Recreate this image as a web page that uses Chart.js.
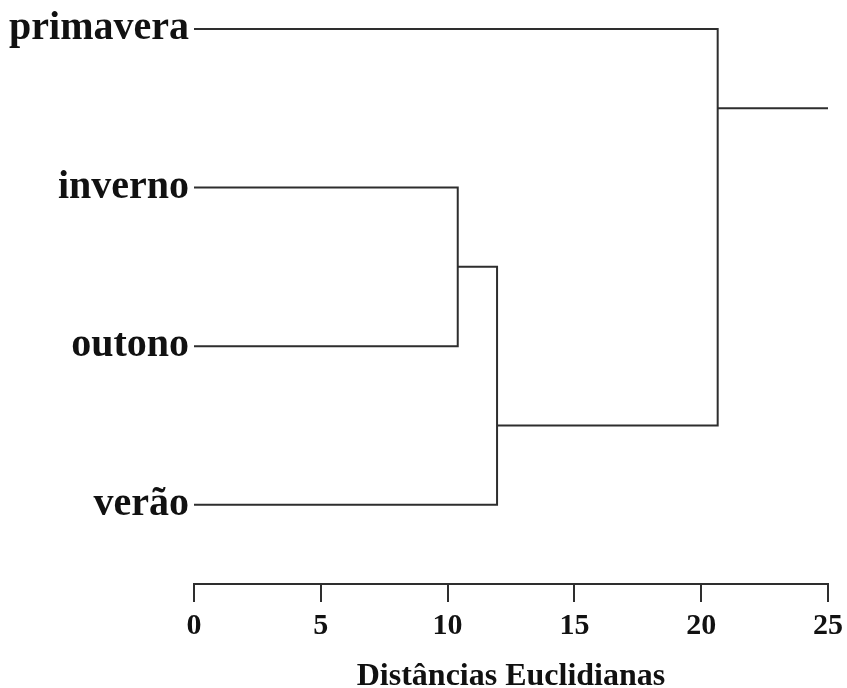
<!DOCTYPE html>
<html>
<head>
<meta charset="utf-8">
<script src="https://cdn.jsdelivr.net/npm/chart.js@4/dist/chart.umd.min.js"></script>
<style>
  html, body { margin: 0; padding: 0; background: #ffffff; }
  canvas { display: block; }
</style>
</head>
<body>
<canvas id="dendro" width="847" height="688"></canvas>
<script>
// Leaves, bottom row (0) to top row (3)
const leafNames = ['verão', 'outono', 'inverno', 'primavera'];
const leafRows = [0, 1, 2, 3];

// Agglomeration steps: joined pair, joining distance, row of the new node
const mergeChildren = [['inverno', 'outono'], ['m1', 'verão'], ['primavera', 'm2']];
const mergeDistances = [10.4, 11.95, 20.65];
const mergeRows = [1.5, 0.5, 2.5];
const rootTailEnd = 25;

// Distance axis ticks
const distTicks = [0, 5, 10, 15, 20, 25];

const LINE = '#2e2e2e';
const SERIF = "'Liberation Serif', 'Times New Roman', serif";

// Node table: leaves sit at distance 0 on their own row
const nodes = {};
leafNames.forEach((n, i) => { nodes[n] = { d: 0, r: leafRows[i] }; });

const segments = [];
mergeChildren.forEach((pair, i) => {
  const a = nodes[pair[0]], b = nodes[pair[1]], h = mergeDistances[i];
  segments.push([
    { x: a.d, y: a.r }, { x: h, y: a.r },
    { x: h, y: b.r }, { x: b.d, y: b.r }
  ]);
  nodes['m' + (i + 1)] = { d: h, r: mergeRows[i] };
});
const root = nodes['m' + mergeChildren.length];
segments.push([{ x: root.d, y: root.r }, { x: rootTailEnd, y: root.r }]);

const datasets = segments.map(pts => ({
  data: pts,
  showLine: true,
  borderColor: LINE,
  borderWidth: 2,
  pointRadius: 0,
  tension: 0,
  clip: false
}));

new Chart(document.getElementById('dendro'), {
  type: 'scatter',
  data: { datasets },
  options: {
    responsive: false,
    animation: false,
    devicePixelRatio: 1,
    layout: { padding: { top: 28, right: 19, left: 0, bottom: 0 } },
    plugins: { legend: { display: false }, tooltip: { enabled: false } },
    scales: {
      x: {
        type: 'linear',
        position: 'bottom',
        min: 0,
        max: 25,
        afterBuildTicks: s => { s.ticks = distTicks.map(v => ({ value: v })); },
        afterFit: s => { s.height = 104; s.paddingLeft = 0; s.paddingRight = 0; },
        border: { display: true, color: LINE, width: 2 },
        grid: { display: true, drawOnChartArea: false, drawTicks: true, tickLength: 18, color: LINE, lineWidth: 2 },
        ticks: { color: '#111', padding: 9, maxRotation: 0, font: { family: SERIF, size: 30, weight: 'bold', lineHeight: 1 } },
        title: {
          display: true,
          text: 'Distâncias Euclidianas',
          color: '#111',
          padding: { top: 0, bottom: 0 },
          font: { family: SERIF, size: 32, weight: 'bold', lineHeight: 0.7 }
        }
      },
      y: {
        type: 'linear',
        min: -0.5,
        max: 3,
        afterBuildTicks: s => { s.ticks = leafRows.map(v => ({ value: v })); },
        afterFit: s => { s.width = 194; },
        border: { display: false },
        grid: { display: false, drawTicks: false },
        ticks: {
          color: '#111',
          padding: 5,
          font: { family: SERIF, size: 40, weight: 'bold' },
          callback: v => leafNames[leafRows.indexOf(v)] ?? ''
        }
      }
    }
  }
});
</script>
</body>
</html>
